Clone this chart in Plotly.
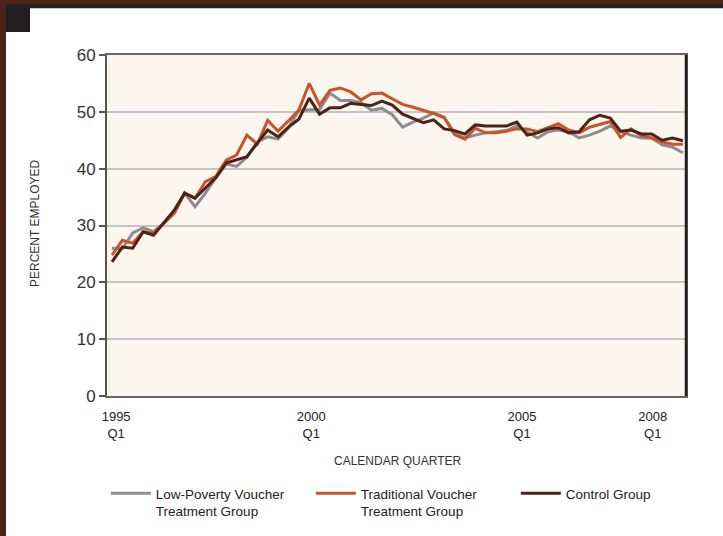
import plotly.graph_objects as go

quarters = list(range(56))  # 1995 Q1 .. 2008 Q4

low_poverty = [26.0, 25.9, 28.7, 29.6, 28.9, 30.4, 32.2, 35.7, 33.3, 35.7,
               38.4, 40.8, 40.4, 42.0, 44.7, 45.6, 45.2, 47.2, 50.3, 50.3,
               50.4, 53.3, 52.0, 52.0, 51.6, 50.3, 50.6, 49.5, 47.3, 48.2,
               48.9, 49.8, 49.0, 46.3, 45.4, 45.9, 46.3, 46.5, 46.7, 47.5,
               46.5, 45.4, 46.5, 46.8, 46.5, 45.4, 45.9, 46.6, 47.5, 46.5,
               45.9, 45.4, 45.4, 44.2, 43.8, 42.8]

traditional = [24.8, 27.4, 26.9, 28.9, 28.6, 30.4, 32.2, 35.7, 34.8, 37.7,
               38.6, 41.5, 42.4, 45.9, 44.3, 48.5, 46.6, 48.4, 50.3, 55.0,
               51.2, 53.8, 54.2, 53.5, 52.1, 53.2, 53.3, 52.3, 51.3, 50.8,
               50.3, 49.7, 49.0, 46.0, 45.2, 47.1, 46.3, 46.3, 46.6, 47.0,
               47.0, 46.5, 47.2, 47.9, 46.8, 46.3, 47.3, 47.8, 48.3, 45.5,
               47.0, 45.8, 45.4, 44.7, 44.3, 44.3]

control = [23.6, 26.2, 26.0, 28.9, 28.3, 30.6, 32.7, 35.7, 34.8, 36.6,
           38.4, 41.0, 41.5, 42.1, 44.5, 46.8, 45.6, 47.3, 48.7, 52.4,
           49.6, 50.7, 50.7, 51.5, 51.3, 51.1, 51.9, 51.2, 49.6, 48.9,
           48.1, 48.6, 47.0, 46.7, 46.1, 47.7, 47.5, 47.5, 47.5, 48.2,
           45.9, 46.3, 47.0, 47.2, 46.3, 46.5, 48.6, 49.4, 48.9, 46.6,
           46.8, 46.1, 46.1, 45.0, 45.4, 44.9]

tick_positions = [0.4, 19.2, 39.5, 52.1]
tick_labels = ["1995<br>Q1", "2000<br>Q1", "2005<br>Q1", "2008<br>Q1"]

series_names = ["Low-Poverty Voucher<br>Treatment Group",
                "Traditional Voucher<br>Treatment Group",
                "Control Group"]
series_colors = ["#8b8d90", "#c9542b", "#4e2217"]

fig = go.Figure()
for name, vals, col in zip(series_names, [low_poverty, traditional, control], series_colors):
    fig.add_trace(go.Scatter(x=quarters, y=vals, mode="lines", name=name,
                             line=dict(color=col, width=3)))

sans = "Liberation Sans, Arial, Helvetica, sans-serif"

H = 341.0
W = 579.0
def px_x(x): return (x - 107) / W
def px_y(y): return (396 - y) / H

shapes = [dict(type="line", xref="paper", yref="paper", x0=1, x1=1, y0=0, y1=1,
               line=dict(color="#222", width=2.5))]
frame = [
    dict(x0=0, x1=723, y0=0, y1=4, c="#4f2218"),
    dict(x0=0, x1=723, y0=4, y1=8, c="#222222"),
    dict(x0=0, x1=723, y0=8, y1=9, c="#c8c8c8"),
    dict(x0=0, x1=6, y0=0, y1=536, c="#4f2218"),
    dict(x0=6, x1=30, y0=8, y1=32, c="#231f20"),
]
for f in frame:
    shapes.append(dict(type="rect", xref="paper", yref="paper",
                       x0=px_x(f["x0"]), x1=px_x(f["x1"]),
                       y0=px_y(f["y1"]), y1=px_y(f["y0"]),
                       fillcolor=f["c"], line=dict(width=0), layer="above"))

fig.update_layout(
    width=723, height=536,
    margin=dict(l=107, r=37, t=55, b=140, autoexpand=False),
    paper_bgcolor="white",
    plot_bgcolor="#fbf6ee",
    showlegend=True,
    legend=dict(orientation="h", x=-0.002, xanchor="left", y=px_y(478), yanchor="top",
                font=dict(family=sans, size=13.5, color="#222"),
                entrywidth=150, entrywidthmode="pixels", valign="top",
                itemwidth=40, bgcolor="rgba(0,0,0,0)", tracegroupgap=0),
    xaxis=dict(range=[-0.48, 55.3], tickvals=tick_positions, ticktext=tick_labels,
               showgrid=False, zeroline=False, showline=True, linecolor="#666",
               linewidth=2, mirror=True, ticks="outside", ticklen=7,
               tickcolor="rgba(0,0,0,0)",
               tickfont=dict(family=sans, size=13, color="#222")),
    yaxis=dict(range=[0, 60], tickvals=[0, 10, 20, 30, 40, 50, 60],
               showgrid=True, gridcolor="#c4c4c4", gridwidth=1.5, zeroline=False,
               showline=True, linecolor="#555", linewidth=2, mirror=True,
               ticks="outside", ticklen=6, tickcolor="#555", tickwidth=1.5,
               tickfont=dict(family=sans, size=17, color="#333")),
    annotations=[
        dict(text="PERCENT EMPLOYED", xref="paper", yref="paper", x=px_x(35), y=px_y(224),
             xanchor="center", yanchor="middle", textangle=-90, showarrow=False,
             font=dict(family=sans, size=12, color="#333")),
        dict(text="CALENDAR QUARTER", xref="paper", yref="paper", x=px_x(397), y=px_y(461),
             xanchor="center", yanchor="middle", showarrow=False,
             font=dict(family=sans, size=12, color="#333")),
    ],
    shapes=shapes,
)

fig.write_html("out.html", config={"displayModeBar": False},
               post_script="document.body.style.margin='0px';")
